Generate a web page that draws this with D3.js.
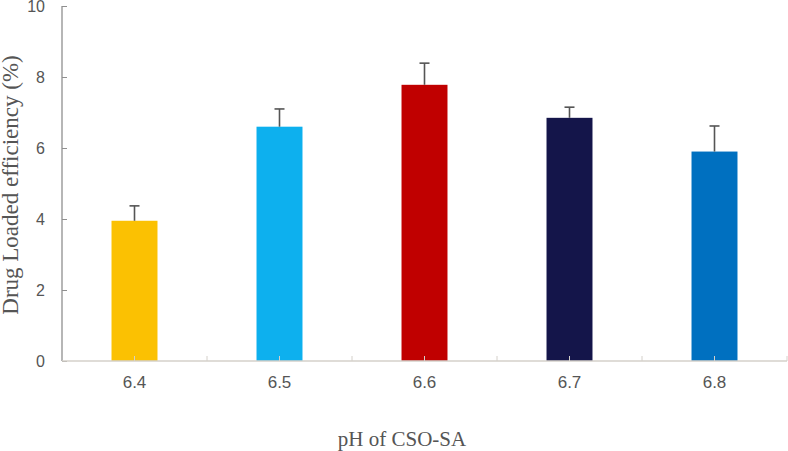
<!DOCTYPE html>
<html>
<head>
<meta charset="utf-8">
<script src="https://cdn.jsdelivr.net/npm/d3@7"></script>
<style>
  body { margin: 0; background: #fff; }
  svg { display: block; }
</style>
</head>
<body>
<script>
'use strict';

var categories = ["6.4", "6.5", "6.6", "6.7", "6.8"];
var values = [3.95, 6.6, 7.78, 6.85, 5.9];
var errors = [0.42, 0.5, 0.61, 0.3, 0.72];
var colors = ["#fbc102", "#0db0ee", "#c00000", "#14154a", "#0070c0"];
var yTicks = [0, 2, 4, 6, 8, 10];

var w = 788,
    h = 451,
    plotLeft = 62,
    plotRight = 787,
    plotTop = 6,
    plotBottom = 361;

var svg = d3.select("body").append("svg")
    .attr("width", w)
    .attr("height", h);

var x = d3.scaleBand()
    .domain(categories)
    .range([plotLeft, plotRight])
    .paddingInner(0)
    .paddingOuter(0);

var y = d3.scaleLinear()
    .domain([0, 10])
    .range([plotBottom, plotTop]);

var barW = x.bandwidth() * 0.317;

// bars
svg.selectAll("rect.bar")
    .data(values)
    .enter().append("rect")
    .attr("class", "bar")
    .attr("x", function (d, i) { return x(categories[i]) + (x.bandwidth() - barW) / 2; })
    .attr("y", function (d) { return y(d); })
    .attr("width", barW)
    .attr("height", function (d) { return y(0) - y(d); })
    .style("fill", function (d, i) { return colors[i]; });

// error bars (upper only)
var err = svg.selectAll("g.err")
    .data(values)
    .enter().append("g")
    .attr("class", "err")
    .style("stroke", "#555")
    .style("stroke-width", 1.6);

err.append("line")
    .attr("x1", function (d, i) { return x(categories[i]) + x.bandwidth() / 2; })
    .attr("x2", function (d, i) { return x(categories[i]) + x.bandwidth() / 2; })
    .attr("y1", function (d) { return y(d); })
    .attr("y2", function (d, i) { return y(d + errors[i]); });

err.append("line")
    .attr("x1", function (d, i) { return x(categories[i]) + x.bandwidth() / 2 - 5; })
    .attr("x2", function (d, i) { return x(categories[i]) + x.bandwidth() / 2 + 5; })
    .attr("y1", function (d, i) { return y(d + errors[i]); })
    .attr("y2", function (d, i) { return y(d + errors[i]); });

// y axis
var yAxis = svg.append("g")
    .attr("transform", "translate(" + plotLeft + ",0)")
    .call(d3.axisRight(y).tickValues(yTicks).tickSize(5).tickFormat(d3.format("d")));

yAxis.select(".domain").attr("stroke", "#8f8f8f").attr("stroke-width", 1.3)
    .attr("d", "M0," + plotTop + "V" + plotBottom);
yAxis.selectAll(".tick line").attr("stroke", "#8f8f8f");
yAxis.selectAll(".tick text")
    .attr("x", -17)
    .attr("dy", "0.36em")
    .attr("text-anchor", "end")
    .style("font-family", "'Liberation Sans', Arial, sans-serif")
    .style("font-size", "16px")
    .style("fill", "#555");

// x axis
var xAxis = svg.append("g")
    .attr("transform", "translate(0," + plotBottom + ")")
    .call(d3.axisTop(x).tickSize(5).tickSizeOuter(0));

xAxis.select(".domain").attr("stroke", "#d4d0ca").attr("stroke-width", 1.3)
    .attr("d", "M" + plotLeft + ",0H" + plotRight);
xAxis.selectAll(".tick line").attr("stroke", "#d4d0ca");
xAxis.selectAll(".tick text")
    .attr("y", 27)
    .attr("dy", 0)
    .style("font-family", "'Liberation Sans', Arial, sans-serif")
    .style("font-size", "17px")
    .style("fill", "#555");

// boundary ticks between categories
var bounds = categories.slice(1).map(function (c) { return x(c); }).concat([plotRight]);
xAxis.selectAll("line.bound")
    .data(bounds)
    .enter().append("line")
    .attr("class", "bound")
    .attr("x1", function (d) { return d; })
    .attr("x2", function (d) { return d; })
    .attr("y1", 0)
    .attr("y2", -5)
    .attr("stroke", "#d4d0ca");

// titles
svg.append("text")
    .attr("x", 402)
    .attr("y", 446)
    .attr("text-anchor", "middle")
    .style("font-family", "'Liberation Serif', 'Times New Roman', serif")
    .style("font-size", "21px")
    .style("fill", "#555")
    .text("pH of CSO-SA");

svg.append("text")
    .attr("transform", "translate(18,185)rotate(-90)")
    .attr("text-anchor", "middle")
    .style("font-family", "'Liberation Serif', 'Times New Roman', serif")
    .style("font-size", "23px")
    .style("fill", "#555")
    .text("Drug Loaded efficiency (%)");
</script>
</body>
</html>
